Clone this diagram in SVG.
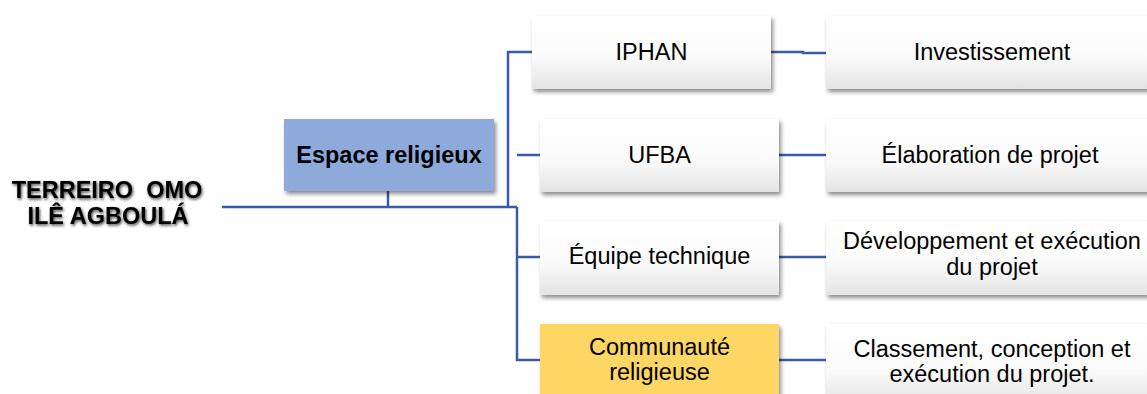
<svg xmlns="http://www.w3.org/2000/svg" width="1147" height="394" viewBox="0 0 1147 394">
<defs>
<linearGradient id="wg" x1="0" y1="0" x2="0" y2="1">
<stop offset="0" stop-color="#ffffff"/>
<stop offset="0.55" stop-color="#fbfbfb"/>
<stop offset="1" stop-color="#e4e4e4"/>
</linearGradient>
<filter id="sh" x="-10%" y="-20%" width="130%" height="150%">
<feDropShadow dx="2" dy="3" stdDeviation="2" flood-color="#000" flood-opacity="0.45"/>
</filter>
<filter id="ts" x="-10%" y="-30%" width="120%" height="160%">
<feDropShadow dx="1" dy="1.5" stdDeviation="1.6" flood-color="#000" flood-opacity="0.75"/>
</filter>
</defs>
<style>
.box{fill:url(#wg);filter:url(#sh);}
.blue{fill:#8eaadb;filter:url(#sh);}
.yel{fill:#fdd663;filter:url(#sh);}
.t{font-family:"Liberation Sans",Arial,sans-serif;font-size:23.5px;fill:#000;text-anchor:middle;}
.b{font-weight:bold;}
.r{font-size:23.5px;filter:url(#ts);}
.c{fill:none;stroke:#3a5ba6;stroke-width:2.5;}
</style>
<rect width="1147" height="394" fill="#fff"/>
<g id="connectors">
<path class="c" d="M222 207H517"/>
<path class="c" d="M388 191V207"/>
<path class="c" d="M508 207V52H532"/>
<path class="c" d="M517 207V360H540M517 155H540M517 257H540"/>
<path class="c" d="M771 52H803V53H826"/>
<path class="c" d="M779 155H826"/>
<path class="c" d="M779 257H826"/>
<path class="c" d="M779 360H826"/>
</g>
<g id="root">
<text class="t b r" x="107" y="198" xml:space="preserve">TERREIRO  OMO</text>
<text class="t b r" x="108" y="224">ILÊ AGBOULÁ</text>
</g>
<g id="espace">
<rect class="blue" x="284" y="119" width="210" height="72"/>
<text class="t b" x="389" y="163">Espace religieux</text>
</g>
<g id="iphan">
<rect class="box" x="532" y="16" width="239" height="73"/>
<text class="t" x="651.5" y="60">IPHAN</text>
</g>
<g id="ufba">
<rect class="box" x="540" y="119" width="239" height="73"/>
<text class="t" x="659.5" y="163">UFBA</text>
</g>
<g id="equipe">
<rect class="box" x="540" y="221" width="239" height="74"/>
<text class="t" x="659.5" y="264">Équipe technique</text>
</g>
<g id="communaute">
<rect class="yel" x="540" y="324" width="239" height="80"/>
<text class="t" x="659.5" y="355">Communauté</text>
<text class="t" x="659.5" y="380">religieuse</text>
</g>
<g id="investissement">
<rect class="box" x="826" y="16" width="332" height="73"/>
<text class="t" x="992" y="60">Investissement</text>
</g>
<g id="elaboration">
<rect class="box" x="826" y="119" width="332" height="73"/>
<text class="t" x="990" y="163">Élaboration de projet</text>
</g>
<g id="developpement">
<rect class="box" x="826" y="221" width="332" height="74"/>
<text class="t" x="992" y="249">Développement et exécution</text>
<text class="t" x="992" y="275">du projet</text>
</g>
<g id="classement">
<rect class="box" x="826" y="324" width="332" height="80"/>
<text class="t" x="992" y="357">Classement, conception et</text>
<text class="t" x="992" y="382">exécution du projet.</text>
</g>
</svg>
